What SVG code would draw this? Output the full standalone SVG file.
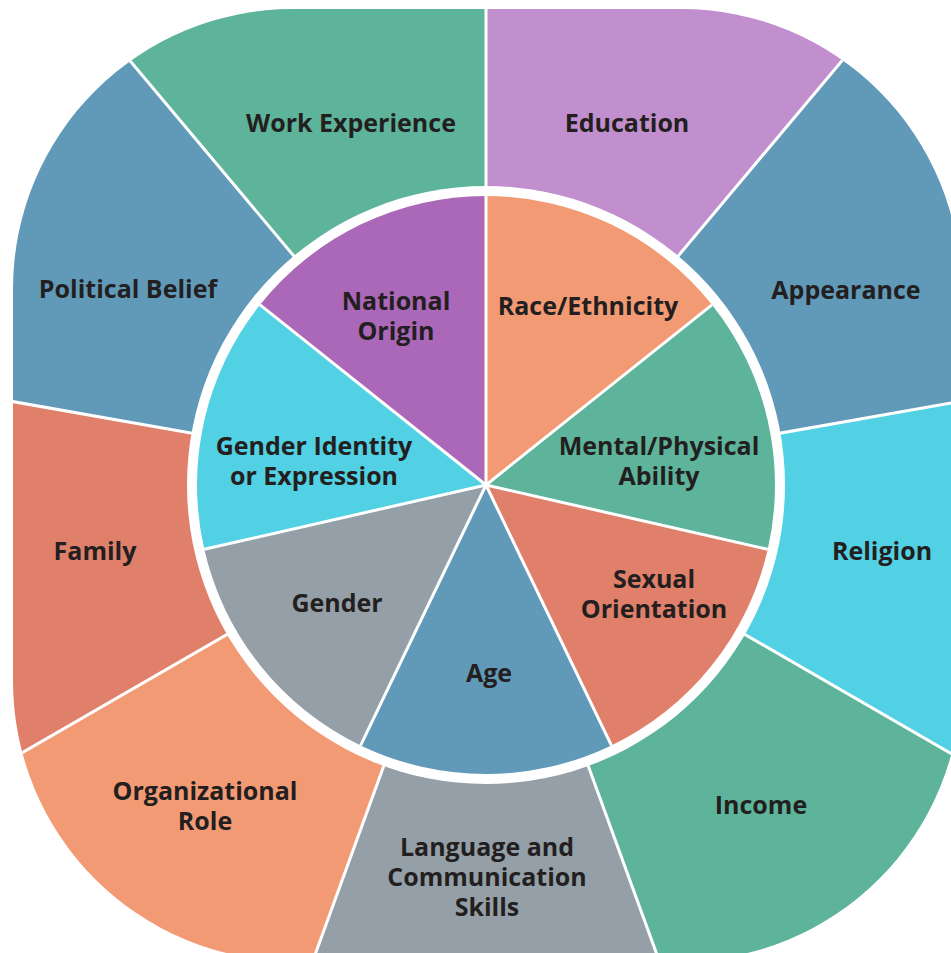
<svg xmlns="http://www.w3.org/2000/svg" width="951" height="953" viewBox="0 0 951 953">
<style>
.lbl{font-family:"Open Sans","Noto Sans","Liberation Sans",sans-serif;font-weight:700;font-size:25px;fill:#231f20;text-anchor:middle}
.sep{stroke:#ffffff;stroke-width:3;fill:none}
.teal{fill:#5db49a}.lilac{fill:#c28fce}.blue{fill:#6199b8}.cyan{fill:#52d0e4}
.grey{fill:#959fa8}.salmon{fill:#f29a74}.coral{fill:#e0806b}.purple{fill:#ab67b8}
</style>
<defs>
<clipPath id="outerClip"><rect x="13" y="9" width="948" height="952" rx="280" ry="280"/></clipPath>
</defs>
<rect width="951" height="953" fill="#ffffff"/>
<g id="outer-ring" clip-path="url(#outerClip)">
<g id="work-experience"><polygon class="teal" points="486,485 -92.5,-204.4 486,-415"/><text class="lbl" x="351" y="132">Work Experience</text></g>
<g id="education"><polygon class="lilac" points="486,485 486,-415 1064.5,-204.4"/><text class="lbl" x="627" y="132">Education</text></g>
<g id="appearance"><polygon class="blue" points="486,485 1064.5,-204.4 1372.3,328.8"/><text class="lbl" x="846" y="299">Appearance</text></g>
<g id="religion"><polygon class="cyan" points="486,485 1372.3,328.8 1265.4,935"/><text class="lbl" x="882" y="560">Religion</text></g>
<g id="income"><polygon class="teal" points="486,485 1265.4,935 793.8,1330.7"/><text class="lbl" x="761" y="814">Income</text></g>
<g id="language"><polygon class="grey" points="486,485 793.8,1330.7 178.2,1330.7"/><text class="lbl" x="487" y="856"><tspan x="487">Language and</tspan><tspan x="487" dy="30">Communication</tspan><tspan x="487" dy="30">Skills</tspan></text></g>
<g id="organizational-role"><polygon class="salmon" points="486,485 178.2,1330.7 -293.4,935"/><text class="lbl" x="205" y="800"><tspan x="205">Organizational</tspan><tspan x="205" dy="30">Role</tspan></text></g>
<g id="family"><polygon class="coral" points="486,485 -293.4,935 -400.3,328.8"/><text class="lbl" x="95" y="560">Family</text></g>
<g id="political-belief"><polygon class="blue" points="486,485 -400.3,328.8 -92.5,-204.4"/><text class="lbl" x="128" y="298">Political Belief</text></g>
</g>
<g id="connectors">
<g clip-path="url(#outerClip)">
<line class="sep" x1="486" y1="485" x2="486" y2="-415"/>
<line class="sep" x1="486" y1="485" x2="1064.5" y2="-204.4"/>
<line class="sep" x1="486" y1="485" x2="1372.3" y2="328.8"/>
<line class="sep" x1="486" y1="485" x2="1265.4" y2="935"/>
<line class="sep" x1="486" y1="485" x2="793.8" y2="1330.7"/>
<line class="sep" x1="486" y1="485" x2="178.2" y2="1330.7"/>
<line class="sep" x1="486" y1="485" x2="-293.4" y2="935"/>
<line class="sep" x1="486" y1="485" x2="-400.3" y2="328.8"/>
<line class="sep" x1="486" y1="485" x2="-92.5" y2="-204.4"/>
</g>
<circle cx="486" cy="485" r="299" fill="#ffffff"/>
</g>
<g id="inner-circle">
<g id="race-ethnicity"><path class="salmon" d="M486 485 L486 196 A289 289 0 0 1 711.95 304.81 Z"/><text class="lbl" x="588" y="315">Race/Ethnicity</text></g>
<g id="mental-physical-ability"><path class="teal" d="M486 485 L711.95 304.81 A289 289 0 0 1 767.75 549.31 Z"/><text class="lbl" x="659" y="455"><tspan x="659">Mental/Physical</tspan><tspan x="659" dy="30">Ability</tspan></text></g>
<g id="sexual-orientation"><path class="coral" d="M486 485 L767.75 549.31 A289 289 0 0 1 611.39 745.38 Z"/><text class="lbl" x="654" y="588"><tspan x="654">Sexual</tspan><tspan x="654" dy="30">Orientation</tspan></text></g>
<g id="age"><path class="blue" d="M486 485 L611.39 745.38 A289 289 0 0 1 360.61 745.38 Z"/><text class="lbl" x="489" y="682">Age</text></g>
<g id="gender"><path class="grey" d="M486 485 L360.61 745.38 A289 289 0 0 1 204.25 549.31 Z"/><text class="lbl" x="337" y="612">Gender</text></g>
<g id="gender-identity"><path class="cyan" d="M486 485 L204.25 549.31 A289 289 0 0 1 260.05 304.81 Z"/><text class="lbl" x="314" y="455"><tspan x="314">Gender Identity</tspan><tspan x="314" dy="30">or Expression</tspan></text></g>
<g id="national-origin"><path class="purple" d="M486 485 L260.05 304.81 A289 289 0 0 1 486 196 Z"/><text class="lbl" x="396" y="310"><tspan x="396">National</tspan><tspan x="396" dy="30">Origin</tspan></text></g>
</g>
<g id="inner-connectors">
<line class="sep" x1="486" y1="485" x2="486" y2="196"/>
<line class="sep" x1="486" y1="485" x2="711.95" y2="304.81"/>
<line class="sep" x1="486" y1="485" x2="767.75" y2="549.31"/>
<line class="sep" x1="486" y1="485" x2="611.39" y2="745.38"/>
<line class="sep" x1="486" y1="485" x2="360.61" y2="745.38"/>
<line class="sep" x1="486" y1="485" x2="204.25" y2="549.31"/>
<line class="sep" x1="486" y1="485" x2="260.05" y2="304.81"/>
</g>
</svg>
